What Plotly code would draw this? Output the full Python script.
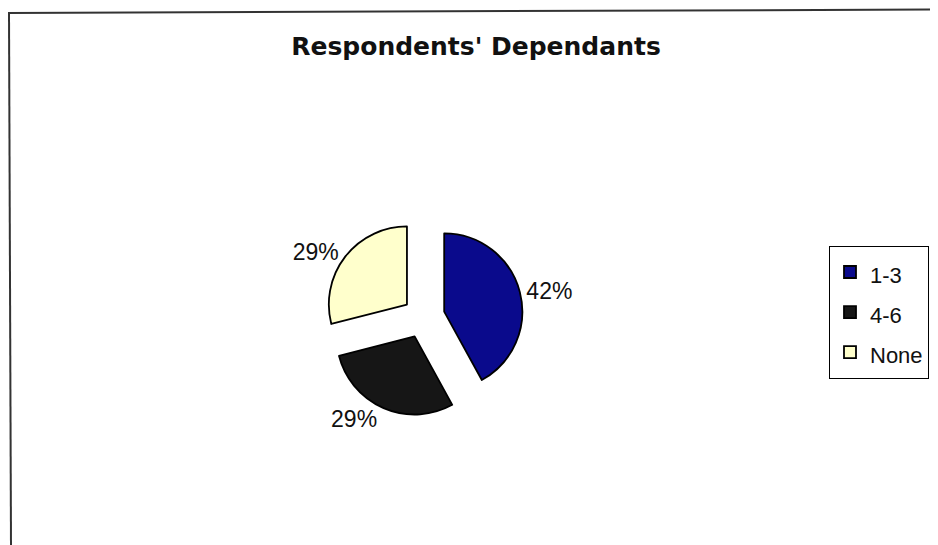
import plotly.graph_objects as go

categories = ["1-3", "4-6", "None"]
values = [42, 29, 29]
colors = ["#0A0A8C", "#161616", "#FFFFCC"]
title_text = "Respondents' Dependants"

# page has an 8px body margin; figure coordinates are page coordinates minus 8
OFF = 8
W, H = 938 - OFF, 545 - OFF
cx, cy, half = 423 - OFF, 317 - OFF, 100

legend_labels = ["<span style='font-size:22px'>%s</span>" % c for c in categories]

fig = go.Figure(go.Pie(
    labels=legend_labels,
    values=values,
    sort=False,
    direction="clockwise",
    rotation=0,
    pull=[0.28, 0.27, 0.26],
    marker=dict(colors=colors, line=dict(color="#000000", width=1.8)),
    texttemplate="%{percent:.0%}",
    textposition="outside",
    textfont=dict(family="Liberation Sans, Arial, sans-serif", size=23, color="#111111"),
    domain=dict(x=[(cx - half) / W, (cx + half) / W], y=[1 - (cy + half) / H, 1 - (cy - half) / H]),
    showlegend=True,
))

def px(x):
    return (x - OFF) / W

def py(y):
    return 1 - (y - OFF) / H

fig.update_layout(
    width=W, height=H,
    margin=dict(l=0, r=0, t=0, b=0),
    paper_bgcolor="white",
    plot_bgcolor="white",
    title=dict(text="<b>" + title_text + "</b>", x=px(476), xanchor="center",
               y=py(46), yanchor="middle",
               font=dict(family="DejaVu Sans, sans-serif", size=25, color="#111111")),
    legend=dict(x=px(829), xanchor="left", y=py(246), yanchor="top",
                bordercolor="#000000", borderwidth=1, bgcolor="white",
                font=dict(family="Liberation Sans, Arial, sans-serif", size=28.5, color="#111111"),
                itemwidth=30),
    shapes=[
        dict(type="line", xref="paper", yref="paper", x0=px(8), x1=px(938), y0=py(13), y1=py(9.5),
             line=dict(color="#333333", width=2)),
        dict(type="line", xref="paper", yref="paper", x0=px(9), x1=px(11), y0=py(13), y1=py(545),
             line=dict(color="#333333", width=2)),
    ],
)

fig.write_html("out.html")
